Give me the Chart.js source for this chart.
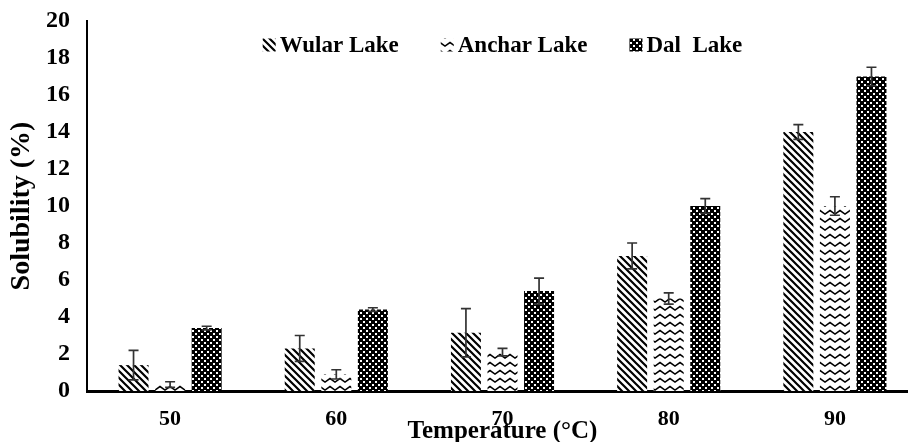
<!DOCTYPE html>
<html>
<head>
<meta charset="utf-8">
<script src="https://cdn.jsdelivr.net/npm/chart.js@4"></script>
<style>
    html, body { margin: 0; padding: 0; background: #fff; overflow: hidden; }
    #wrap { width: 920px; height: 442px; }
</style>
</head>
<body>
<div id="wrap"><canvas id="solubiliteChart"></canvas></div>
<script>
const temperatures = ["50", "60", "70", "80", "90"];
const yTicks = [0, 2, 4, 6, 8, 10, 12, 14, 16, 18, 20];

const wularLake = [1.4, 2.3, 3.15, 7.3, 14.0];
const wularErr = [0.8, 0.7, 1.3, 0.7, 0.4];
const ancharLake = [0.35, 0.9, 2.1, 5.0, 10.0];
const ancharErr = [0.15, 0.25, 0.2, 0.3, 0.5];
const dalLake = [3.4, 4.4, 5.4, 10.0, 17.0];
const dalErr = [0.1, 0.1, 0.7, 0.4, 0.5];

const FONT = "'Liberation Serif', 'Times New Roman', serif";

function makePattern(w, h, draw) {
    const c = document.createElement("canvas");
    c.width = w;
    c.height = h;
    const g = c.getContext("2d");
    g.fillStyle = "#fff";
    g.fillRect(0, 0, w, h);
    draw(g, w, h);
    return g.createPattern(c, "repeat");
}

// wide downward diagonal
function stripePattern() {
    return makePattern(7, 7, (g, s) => {
        g.strokeStyle = "#000";
        g.lineWidth = 2.2;
        g.beginPath();
        g.moveTo(-2, -2); g.lineTo(s + 2, s + 2);
        g.moveTo(-2 - s, -2); g.lineTo(2, s + 2);
        g.moveTo(s - 2, -2); g.lineTo(2 * s + 2, s + 2);
        g.stroke();
    });
}

// wave rows
function wavePattern() {
    return makePattern(10, 8, (g) => {
        g.strokeStyle = "#000";
        g.lineWidth = 1.5;
        g.beginPath();
        g.moveTo(-2.5, 6);
        g.lineTo(0, 2.5);
        g.lineTo(5, 6);
        g.lineTo(10, 2.5);
        g.lineTo(12.5, 6);
        g.stroke();
    });
}

// dark checker with light dots
function checkerPattern() {
    return makePattern(6, 6, (g, s) => {
        g.fillStyle = "#000";
        g.fillRect(0, 0, s, s);
        g.fillStyle = "#fff";
        g.fillRect(0, 0, 2, 2);
        g.fillRect(3, 3, 2, 2);
    });
}

const errorBars = {
    id: "errorBars",
    afterDatasetsDraw(chart) {
        const ctx = chart.ctx;
        const y = chart.scales.y;
        ctx.save();
        ctx.strokeStyle = "#333";
        ctx.lineWidth = 1.7;
        chart.data.datasets.forEach((ds, i) => {
            chart.getDatasetMeta(i).data.forEach((bar, j) => {
                const v = ds.data[j];
                const e = ds.errors[j];
                const top = y.getPixelForValue(v + e);
                const bot = y.getPixelForValue(v - e);
                const x = bar.x;
                ctx.beginPath();
                ctx.moveTo(x, top); ctx.lineTo(x, bot);
                ctx.moveTo(x - 5, top); ctx.lineTo(x + 5, top);
                ctx.moveTo(x - 5, bot); ctx.lineTo(x + 5, bot);
                ctx.stroke();
            });
        });
        ctx.restore();
    }
};

const topLegend = {
    id: "topLegend",
    afterDraw(chart) {
        const ctx = chart.ctx;
        const area = chart.chartArea;
        const box = 13, gapText = 4, gapItem = 42, cy = 45;
        ctx.save();
        ctx.font = "bold 23px " + FONT;
        ctx.textBaseline = "middle";
        const items = chart.data.datasets.map(ds => ({
            ds: ds,
            w: box + gapText + ctx.measureText(ds.label).width
        }));
        const total = items.reduce((s, it) => s + it.w, 0) + gapItem * (items.length - 1);
        let x = (area.left + area.right) / 2 - total / 2;
        items.forEach(it => {
            ctx.fillStyle = it.ds.backgroundColor;
            ctx.fillRect(x, cy - box / 2, box, box);
            ctx.fillStyle = "#000";
            ctx.fillText(it.ds.label, x + box + gapText, cy + 1);
            x += it.w + gapItem;
        });
        ctx.restore();
    }
};

function drawSolubility() {
    const canvas = document.getElementById("solubiliteChart");
    if (!canvas) return;
    const ctx = canvas.getContext("2d");
    new Chart(ctx, {
        type: "bar",
        data: {
            labels: temperatures,
            datasets: [
                { label: "Wular Lake", data: wularLake, errors: wularErr, backgroundColor: stripePattern() },
                { label: "Anchar Lake", data: ancharLake, errors: ancharErr, backgroundColor: wavePattern() },
                { label: "Dal  Lake", data: dalLake, errors: dalErr, backgroundColor: checkerPattern() }
            ]
        },
        options: {
            responsive: true,
            maintainAspectRatio: false,
            animation: false,
            categoryPercentage: 0.66,
            barPercentage: 0.82,
            layout: { padding: { top: 20, right: 2, left: 0, bottom: 0 } },
            plugins: {
                legend: { display: false },
                tooltip: { enabled: false }
            },
            scales: {
                x: {
                    grid: { display: false },
                    border: { color: "#000", width: 3 },
                    ticks: { color: "#000", font: { family: FONT, size: 22, weight: "bold", lineHeight: 1 }, padding: 9 },
                    title: {
                        display: true,
                        text: "Temperature (°C)",
                        color: "#000",
                        font: { family: FONT, size: 25, weight: "bold", lineHeight: 1 },
                        padding: { top: 0, bottom: -2 }
                    },
                    afterFit: s => { s.height = 51; }
                },
                y: {
                    min: 0,
                    max: 20,
                    afterBuildTicks: s => { s.ticks = yTicks.map(v => ({ value: v })); },
                    grid: { display: false },
                    border: { color: "#000", width: 2 },
                    ticks: { color: "#000", font: { family: FONT, size: 24, weight: "bold", lineHeight: 1 }, padding: 9 },
                    title: {
                        display: true,
                        text: "Solubility (%)",
                        color: "#000",
                        font: { family: FONT, size: 28, weight: "bold", lineHeight: 1 },
                        padding: { top: 8, bottom: 0 }
                    },
                    afterFit: s => { s.width = 87; }
                }
            }
        },
        plugins: [errorBars, topLegend]
    });
}

document.addEventListener("DOMContentLoaded", () => {
    drawSolubility();
});
</script>
</body>
</html>
